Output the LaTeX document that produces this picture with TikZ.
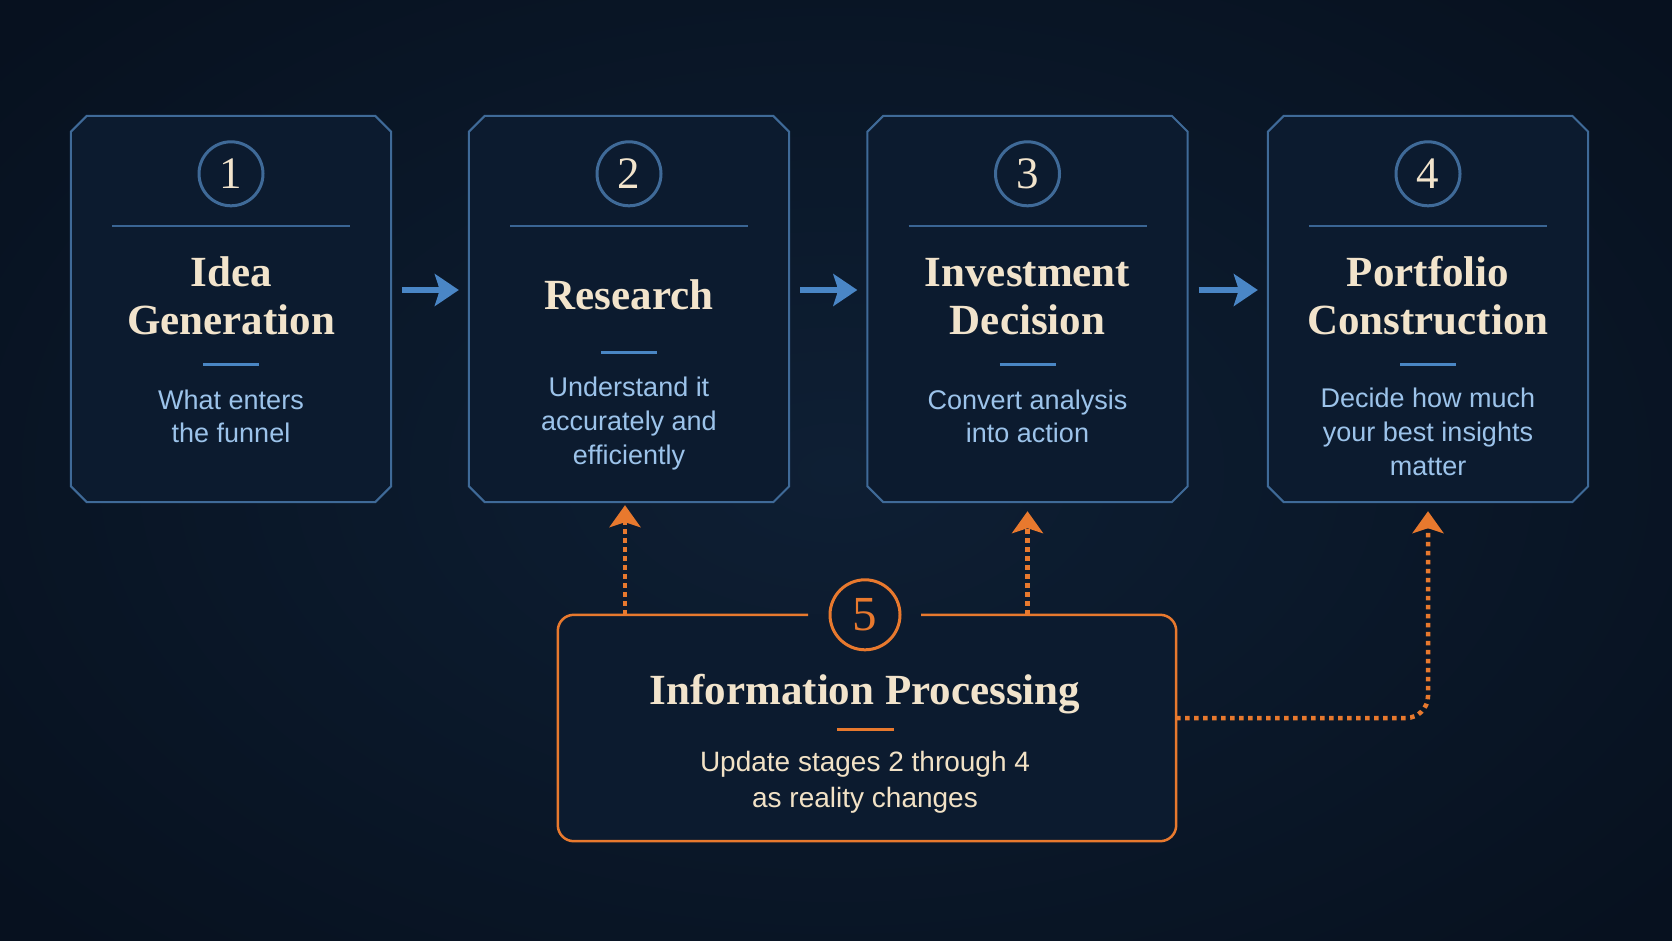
\documentclass[tikz,border=0pt]{standalone}
\usepackage{fontspec}
\setmainfont{Liberation Serif}
\newfontfamily\sansf{Liberation Sans}
\usetikzlibrary{arrows.meta,calc}

\definecolor{bgin}{HTML}{0E1F34}
\definecolor{bgout}{HTML}{07111F}
\definecolor{boxfill}{HTML}{0C1B2F}
\definecolor{boxedgec}{HTML}{3F6A98}
\definecolor{seplong}{HTML}{3A6594}
\definecolor{sepshort}{HTML}{4A86C4}
\definecolor{arrblue}{HTML}{4A86C6}
\definecolor{cream}{HTML}{F2E4CC}
\definecolor{subblue}{HTML}{9CC3EA}
\definecolor{orng}{HTML}{E8792E}
\definecolor{subcream}{HTML}{F2E2C6}

\tikzset{
  stagebox/.style={minimum width=320pt, minimum height=386pt, inner sep=0pt, draw=none},
  boxedge/.style={draw=boxedgec, line width=2pt, fill=boxfill, line join=miter},
  numcirc/.style={circle, draw=boxedgec, line width=3pt, minimum size=64pt, inner sep=0pt,
    font=\fontsize{45}{45}\selectfont, text=cream},
  numcirc5/.style={circle, draw=orng, line width=3pt, minimum size=70pt, inner sep=0pt,
    fill=boxfill, font=\fontsize{49}{49}\selectfont, text=orng},
  ttl/.style={font=\bfseries\fontsize{43}{48}\selectfont, text=cream, inner sep=0pt, anchor=base},
  subt/.style={font=\sansf\fontsize{27}{33}\selectfont, text=subblue, inner sep=0pt, anchor=base},
  subt5/.style={font=\sansf\fontsize{28}{34}\selectfont, text=subcream, inner sep=0pt, anchor=base},
  longsep/.style={draw=seplong, line width=2pt},
  shortsep/.style={draw=sepshort, line width=3pt},
  flowarr/.style={draw=arrblue, line width=6pt, -{Stealth[width=32pt,length=24pt,inset=5pt]},
    shorten <=11pt, shorten >=10pt},
  dotarr/.style={draw=orng, line width=4.5pt, dash pattern=on 4.5pt off 4.5pt,
    -{Stealth[width=31pt,length=22pt,inset=5pt]}},
  infobox/.style={minimum width=618pt, minimum height=226pt, inner sep=0pt, draw=none},
}

\begin{document}
\begin{tikzpicture}[x=1pt,y=-1pt]
\useasboundingbox (0,0) rectangle (1672,941);
\shade[inner color=bgin, outer color=bgout] (-250,-200) rectangle (1922,1141);

% stage boxes
\node[stagebox] (b1) at (231,309) {};
\node[stagebox] (b2) at (629,309) {};
\node[stagebox] (b3) at (1027.5,309) {};
\node[stagebox] (b4) at (1428,309) {};

\foreach \b in {b1,b2,b3,b4}{
  \draw[boxedge] ($(\b.north west)+(16,0)$) -- ($(\b.north east)+(-16,0)$)
    -- ($(\b.north east)+(0,16)$) -- ($(\b.south east)+(0,-16)$)
    -- ($(\b.south east)+(-16,0)$) -- ($(\b.south west)+(16,0)$)
    -- ($(\b.south west)+(0,-16)$) -- ($(\b.north west)+(0,16)$) -- cycle;
  \draw[longsep] ($(\b.north)+(-119,110)$) -- ($(\b.north)+(119,110)$);
}

% number circles
\node[numcirc] (c1) at ($(b1.north)+(0,58)$) {1};
\node[numcirc] (c2) at ($(b2.north)+(0,58)$) {2};
\node[numcirc] (c3) at ($(b3.north)+(0,58)$) {3};
\node[numcirc] (c4) at ($(b4.north)+(0,58)$) {4};

% box 1
\node[ttl] (t1a) at ($(b1.north)+(0,171)$) {Idea};
\node[ttl] (t1b) at ($(b1.north)+(0,219)$) {Generation};
\draw[shortsep] ($(b1.north)+(-28,249)$) -- ($(b1.north)+(28,249)$);
\node[subt] (s1a) at ($(b1.north)+(0,294)$) {What enters};
\node[subt] (s1b) at ($(b1.north)+(0,327)$) {the funnel};

% box 2
\node[ttl] (t2a) at ($(b2.north)+(0,194)$) {Research};
\draw[shortsep] ($(b2.north)+(-28,237)$) -- ($(b2.north)+(28,237)$);
\node[subt] (s2a) at ($(b2.north)+(0,281)$) {Understand it};
\node[subt] (s2b) at ($(b2.north)+(0,315)$) {accurately and};
\node[subt] (s2c) at ($(b2.north)+(0,349)$) {efficiently};

% box 3
\node[ttl] (t3a) at ($(b3.north)+(0,171)$) {Investment};
\node[ttl] (t3b) at ($(b3.north)+(0,219)$) {Decision};
\draw[shortsep] ($(b3.north)+(-28,249)$) -- ($(b3.north)+(28,249)$);
\node[subt] (s3a) at ($(b3.north)+(0,294)$) {Convert analysis};
\node[subt] (s3b) at ($(b3.north)+(0,327)$) {into action};

% box 4
\node[ttl] (t4a) at ($(b4.north)+(0,171)$) {Portfolio};
\node[ttl] (t4b) at ($(b4.north)+(0,219)$) {Construction};
\draw[shortsep] ($(b4.north)+(-28,249)$) -- ($(b4.north)+(28,249)$);
\node[subt] (s4a) at ($(b4.north)+(0,292)$) {Decide how much};
\node[subt] (s4b) at ($(b4.north)+(0,326)$) {your best insights};
\node[subt] (s4c) at ($(b4.north)+(0,360)$) {matter};

% flow arrows
\draw[flowarr] ([yshift=19pt]b1.east) -- ([yshift=19pt]b2.west);
\draw[flowarr] ([yshift=19pt]b2.east) -- ([yshift=19pt]b3.west);
\draw[flowarr] ([yshift=19pt]b3.east) -- ([yshift=19pt]b4.west);

% info processing box
\node[infobox] (b5) at (867,728) {};
\fill[boxfill, rounded corners=16pt] (b5.north west) rectangle (b5.south east);
\draw[orng, line width=2.5pt, rounded corners=16pt]
  ($(b5.north)+(-59,0)$) -- (b5.north west) -- (b5.south west)
  -- (b5.south east) -- (b5.north east) -- ($(b5.north)+(54,0)$);
\node[numcirc5] (c5) at ($(b5.north)+(-2,0)$) {5};
\node[ttl] (t5) at ($(b5.north)+(-2,90)$) {Information Processing};
\draw[orng, line width=3pt] ($(b5.north)+(-30,115)$) -- ($(b5.north)+(27,115)$);
\node[subt5] (s5a) at ($(b5.north)+(-2,157)$) {Update stages 2 through 4};
\node[subt5] (s5b) at ($(b5.north)+(-2,193)$) {as reality changes};

% feedback arrows
\draw[dotarr, shorten >=3pt] ([xshift=-4pt]b2.south |- b5.north) -- ([xshift=-4pt]b2.south);
\draw[dotarr, shorten >=9pt] (b3.south |- b5.north) -- (b3.south);
\draw[dotarr, shorten >=9pt, rounded corners=22pt] ([yshift=10pt]b5.east) -| (b4.south);
\end{tikzpicture}
\end{document}
